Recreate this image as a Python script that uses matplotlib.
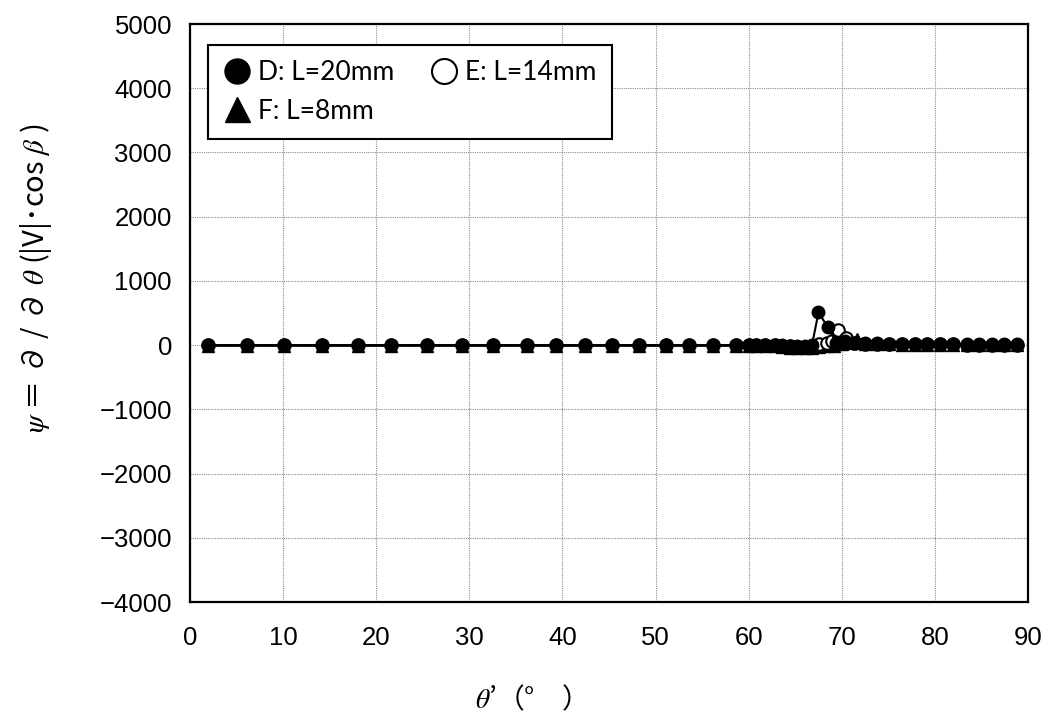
import matplotlib.pyplot as plt

# theta' (deg) and psi values for the three lengths
theta_d = [1.9, 6.1, 10.1, 14.2, 18.0, 21.6, 25.5, 29.2, 32.5, 36.2, 39.3, 42.4,
           45.3, 48.2, 51.1, 53.6, 56.2, 58.6, 60.0, 60.8, 61.8, 62.8, 63.6, 64.4,
           65.2, 66.0, 66.8, 67.5, 68.5, 69.4, 70.3, 71.2, 72.5, 73.8, 75.1, 76.5,
           77.9, 79.2, 80.6, 82.0, 83.4, 84.7, 86.1, 87.4, 88.8]
psi_d = [0, 0, 0, 0, 0, 0, 0, 0, 0, 0, 0, 0,
         0, 0, 0, 0, 0, 0, 0, 0, 0, 0, -5, -10,
         -15, -10, 0, 510, 280, 40, 60, 40, 30, 30, 25, 25,
         25, 20, 20, 20, 15, 15, 15, 10, 10]

theta_e = [1.9, 6.1, 10.1, 14.2, 18.0, 21.6, 25.5, 29.2, 32.5, 36.2, 39.3, 42.4,
           45.3, 48.2, 51.1, 53.6, 56.2, 58.6, 60.0, 60.8, 61.8, 62.8, 63.6, 64.4,
           65.2, 66.0, 66.8, 67.6, 68.4, 69.0, 69.6, 70.5, 71.4, 72.5, 73.8, 75.1,
           76.5, 77.9, 79.2, 80.6, 82.0, 83.4, 84.7, 86.1, 87.4, 88.8]
psi_e = [0, 0, 0, 0, 0, 0, 0, 0, 0, 0, 0, 0,
         0, 0, 0, 0, 0, 0, 0, 0, 0, 0, -10, -20,
         -30, -30, -10, 20, 40, 60, 230, 110, 40, 20, 15, 15,
         10, 10, 10, 10, 10, 5, 5, 5, 5, 5]

theta_f = [1.9, 6.1, 10.1, 14.2, 18.0, 21.6, 25.5, 29.2, 32.5, 36.2, 39.3, 42.4,
           45.3, 48.2, 51.1, 53.6, 56.2, 58.6, 60.0, 60.8, 61.8, 62.8, 63.6, 64.4,
           65.2, 66.0, 66.8, 67.6, 68.4, 69.2, 70.0, 70.8, 71.6, 72.5, 73.8, 75.1,
           76.5, 77.9, 79.2, 80.6, 82.0, 83.4, 84.7, 86.1, 87.4, 88.8]
psi_f = [-10, -10, -10, -10, -10, -10, -10, -10, -10, -10, -10, -10,
         -10, -10, -10, -10, -10, -10, -10, -10, -15, -20, -30, -40,
         -50, -50, -40, -30, -20, -10, 10, 30, 90, 20, 10, 10,
         5, 5, 5, 5, 5, 0, 0, 0, 0, 0]

x_ticks = list(range(0, 91, 10))
y_ticks = list(range(-4000, 5001, 1000))

plt.rcParams['font.family'] = ['Liberation Sans', 'DejaVu Sans']
plt.rcParams['mathtext.fontset'] = 'stix'

fig = plt.figure(figsize=(10.51, 7.15), dpi=100)
ax = fig.add_axes([0.1808, 0.158, 0.7973, 0.8084])

lf, = ax.plot(theta_f, psi_f, color='black', lw=1.5, marker='^', ms=9,
              mfc='black', mec='black', label='F: L=8mm', zorder=3)
le, = ax.plot(theta_e, psi_e, color='black', lw=1.5, marker='o', ms=9,
              mfc='white', mec='black', mew=1.5, label='E: L=14mm', zorder=4)
ld, = ax.plot(theta_d, psi_d, color='black', lw=1.5, marker='o', ms=9,
              mfc='black', mec='black', label='D: L=20mm', zorder=5)

ax.set_xlim(0, 90)
ax.set_ylim(-4000, 5000)
ax.set_xticks(x_ticks)
ax.set_yticks(y_ticks)
ax.tick_params(axis='both', length=0, labelsize=18.5)
ax.tick_params(axis='y', pad=13)
ax.tick_params(axis='x', pad=17)
ax.grid(True, color='0.55', lw=0.8, linestyle=(0, (1, 1)))
ax.set_axisbelow(True)
for s in ax.spines.values():
    s.set_linewidth(1.6)
    s.set_color('black')

# axis titles placed in figure pixels
cjk = ['Noto Sans CJK JP', 'DejaVu Sans']
fig.text(36 / 1051, 1 - 278 / 715,
         r'$\psi$ ＝ ∂ / ∂ $\theta$ (|V|･cos $\beta$ )',
         rotation=90, ha='center', va='center', fontsize=21, family=cjk)
fig.text(475 / 1051, 1 - 700 / 715, r'$\theta$’（°　）',
         ha='left', va='center', fontsize=20, family=cjk)

leg = ax.legend(handles=[ld, lf, le], ncol=2, loc='upper left',
                bbox_to_anchor=(0.0215, 0.9637), borderaxespad=0,
                frameon=True, fancybox=False, edgecolor='black',
                framealpha=1, handlelength=1.0, handletextpad=0.3,
                columnspacing=1.4, borderpad=0.58, labelspacing=0.5,
                markerscale=2.0, prop={'family': 'Lato', 'size': 19})
leg.get_frame().set_linewidth(1.5)
for h in leg.legend_handles:
    h.set_linestyle('none')

fig.savefig('out.png', dpi=100)
